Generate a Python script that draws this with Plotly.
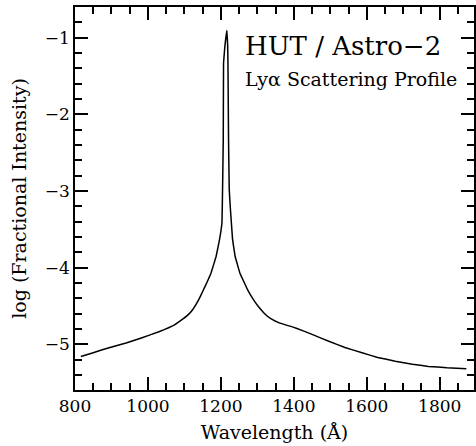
import plotly.graph_objects as go

wavelength = [816, 850, 891, 940, 982, 1030, 1073, 1096, 1110, 1123, 1140, 1150, 1162,
              1173, 1187, 1196, 1203, 1204.6, 1206.5, 1207.3, 1211, 1216.5, 1218.6,
              1219.4, 1221, 1222.9, 1225.6, 1232, 1239, 1252, 1273, 1291, 1305, 1320,
              1337, 1360, 1405, 1450, 1496, 1540, 1587, 1630, 1678, 1725, 1769, 1820, 1873]
log_intensity = [-5.157, -5.108, -5.047, -4.982, -4.916, -4.835, -4.745, -4.668, -4.615,
                 -4.545, -4.41, -4.31, -4.19, -4.07, -3.85, -3.64, -3.41, -2.98, -2.33,
                 -1.33, -1.11, -0.905, -1.11, -1.33, -2.33, -2.98, -3.198, -3.63, -3.851,
                 -4.068, -4.286, -4.43, -4.52, -4.60, -4.665, -4.72, -4.786, -4.87, -4.96,
                 -5.04, -5.11, -5.17, -5.22, -5.258, -5.287, -5.305, -5.317]

x_tick_start, x_tick_step = 800, 200
y_tick_start, y_tick_step = -5, 1

FONT = "DejaVu Serif"

fig = go.Figure()
fig.add_trace(go.Scatter(x=wavelength, y=log_intensity, mode="lines",
                         line=dict(color="black", width=1.5, shape="spline", smoothing=0.15),
                         showlegend=False, hoverinfo="skip"))

axis_common = dict(
    showline=True, linecolor="black", linewidth=1.5, mirror="allticks",
    ticks="inside", ticklen=13, tickwidth=1.5, tickcolor="black",
    showgrid=False, zeroline=False, tickmode="linear",
    tickfont=dict(family=FONT, size=17, color="black"),
    title_font=dict(family=FONT, size=19, color="black"),
)

fig.update_xaxes(range=[800, 1894], tick0=x_tick_start, dtick=x_tick_step,
                 minor=dict(dtick=50, ticklen=7, tickwidth=1.5, tickcolor="black", ticks="inside"),
                 title_text="Wavelength (Å)", title_standoff=11,
                 **axis_common)
fig.update_yaxes(range=[-5.595, -0.6], tick0=y_tick_start, dtick=y_tick_step,
                 minor=dict(dtick=0.2, ticklen=7, tickwidth=1.5, tickcolor="black", ticks="inside"),
                 title_text="log (Fractional Intensity)", title_standoff=13,
                 **axis_common)

fig.add_annotation(x=1261, y=-1.114, xref="x", yref="y", text="HUT / Astro\u22122",
                   showarrow=False, xanchor="left", yanchor="middle",
                   font=dict(family=FONT, size=26, color="black"))
fig.add_annotation(x=1261, y=-1.544, xref="x", yref="y", text="Ly\u03b1 Scattering Profile",
                   showarrow=False, xanchor="left", yanchor="middle",
                   font=dict(family=FONT, size=19, color="black"))

fig.update_layout(width=476, height=446, margin=dict(l=75, r=0, t=7, b=56),
                  paper_bgcolor="white", plot_bgcolor="white")

fig.write_html("out.html")
